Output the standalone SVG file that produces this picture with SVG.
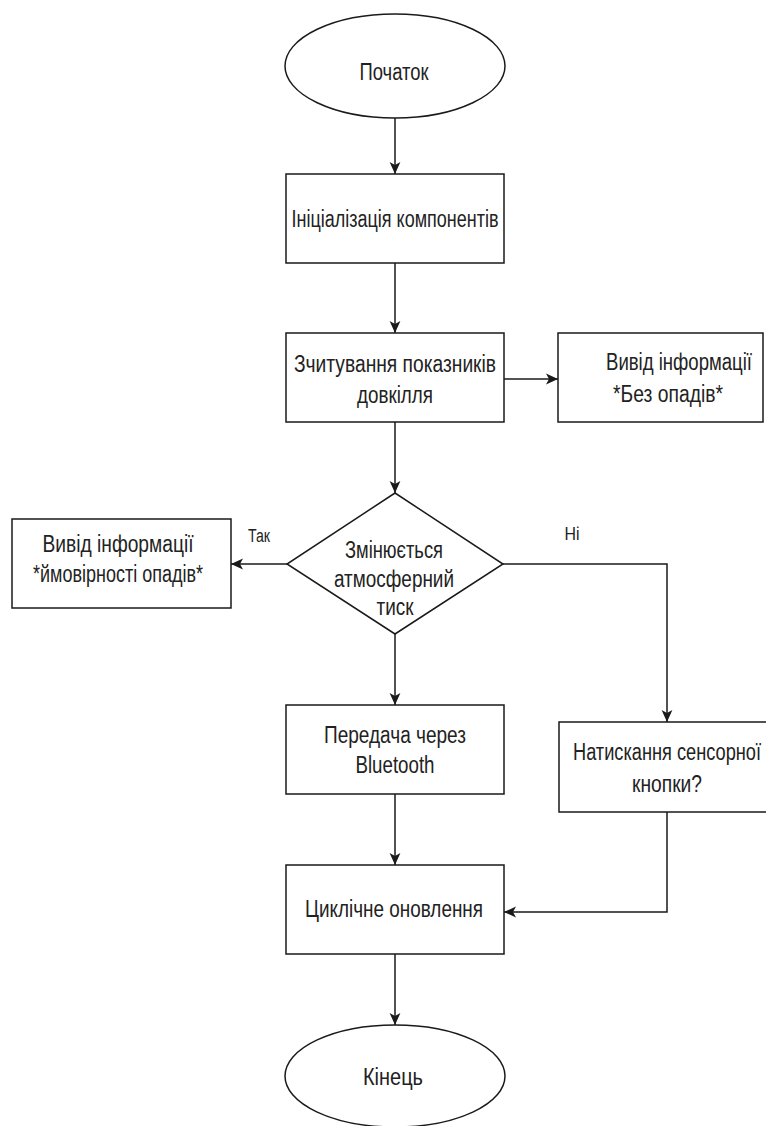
<svg xmlns="http://www.w3.org/2000/svg" width="766" height="1126" viewBox="0 0 766 1126">
<defs>
<style>
.shape{fill:#ffffff;stroke:#1a1a1a;stroke-width:1.5}
.edge{fill:none;stroke:#1a1a1a;stroke-width:1.5}
.t{font-family:"Liberation Sans",Arial,sans-serif;font-size:23.5px;fill:#222222;text-anchor:middle}
.lbl{font-family:"Liberation Sans",Arial,sans-serif;font-size:18px;fill:#222222;text-anchor:middle}
</style>
<marker id="arr" markerUnits="userSpaceOnUse" markerWidth="12" markerHeight="12" viewBox="0 0 10 10" refX="10" refY="5" orient="auto">
<path d="M0,0.5 L10,5 L0,9.5 L2.5,5 Z" fill="#1a1a1a"/>
</marker>
</defs>
<rect x="0" y="0" width="766" height="1126" fill="#ffffff"/>
<g id="connectors">
<path class="edge" d="M395,118 L395,174" marker-end="url(#arr)"/>
<path class="edge" d="M395,263 L395,333" marker-end="url(#arr)"/>
<path class="edge" d="M504,379 L558,379" marker-end="url(#arr)"/>
<path class="edge" d="M395,422 L395,493" marker-end="url(#arr)"/>
<path class="edge" d="M287,564 L231,564" marker-end="url(#arr)"/>
<path class="edge" d="M503,564 L667,564 L667,722" marker-end="url(#arr)"/>
<path class="edge" d="M395,634 L395,705" marker-end="url(#arr)"/>
<path class="edge" d="M395,794 L395,865" marker-end="url(#arr)"/>
<path class="edge" d="M667,812 L667,912 L504,912" marker-end="url(#arr)"/>
<path class="edge" d="M395,954 L395,1025" marker-end="url(#arr)"/>
<text class="lbl" x="259" y="542" textLength="22" lengthAdjust="spacingAndGlyphs">Так</text>
<text class="lbl" x="572" y="540" textLength="15" lengthAdjust="spacingAndGlyphs">Ні</text>
</g>
<g id="start">
<ellipse class="shape" cx="395" cy="66" rx="110" ry="52"/>
<text class="t" x="394" y="80" textLength="69" lengthAdjust="spacingAndGlyphs">Початок</text>
</g>
<g id="init">
<rect class="shape" x="286" y="174" width="218" height="89"/>
<text class="t" x="395" y="227" textLength="207" lengthAdjust="spacingAndGlyphs">Ініціалізація компонентів</text>
</g>
<g id="read">
<rect class="shape" x="286" y="333" width="218" height="89"/>
<text class="t" x="395" y="372" textLength="202" lengthAdjust="spacingAndGlyphs">Зчитування показників</text>
<text class="t" x="395" y="403" textLength="76" lengthAdjust="spacingAndGlyphs">довкілля</text>
</g>
<g id="no-rain">
<rect class="shape" x="558" y="333" width="205" height="89"/>
<text class="t" transform="translate(679,370) scale(0.8,1)" x="0" y="0" textLength="182.5" lengthAdjust="spacingAndGlyphs">Вивід інформації</text>
<text class="t" x="668" y="402" textLength="110" lengthAdjust="spacingAndGlyphs">*Без опадів*</text>
</g>
<g id="decision">
<polygon class="shape" points="395,493 503,564 395,634 287,564"/>
<text class="t" x="394" y="558" textLength="98" lengthAdjust="spacingAndGlyphs">Змінюється</text>
<text class="t" x="394" y="587" textLength="120" lengthAdjust="spacingAndGlyphs">атмосферний</text>
<text class="t" x="395" y="615" textLength="37" lengthAdjust="spacingAndGlyphs">тиск</text>
</g>
<g id="rain-prob">
<rect class="shape" x="12" y="519" width="219" height="89"/>
<text class="t" x="118" y="552" textLength="151" lengthAdjust="spacingAndGlyphs">Вивід інформації</text>
<text class="t" x="118" y="582" textLength="170" lengthAdjust="spacingAndGlyphs">*ймовірності опадів*</text>
</g>
<g id="bluetooth">
<rect class="shape" x="286" y="705" width="218" height="89"/>
<text class="t" x="395" y="743" textLength="142" lengthAdjust="spacingAndGlyphs">Передача через</text>
<text class="t" x="395" y="773" textLength="79" lengthAdjust="spacingAndGlyphs">Bluetooth</text>
</g>
<g id="touch">
<rect class="shape" x="559" y="722" width="220" height="90"/>
<text class="t" transform="translate(667,760) scale(0.8,1)" x="0" y="0" textLength="235" lengthAdjust="spacingAndGlyphs">Натискання сенсорної</text>
<text class="t" x="667" y="792" textLength="70" lengthAdjust="spacingAndGlyphs">кнопки?</text>
</g>
<g id="loop">
<rect class="shape" x="286" y="865" width="218" height="89"/>
<text class="t" x="394" y="917" textLength="178" lengthAdjust="spacingAndGlyphs">Циклічне оновлення</text>
</g>
<g id="end">
<ellipse class="shape" cx="395" cy="1076" rx="110" ry="51"/>
<text class="t" x="393" y="1085" textLength="60" lengthAdjust="spacingAndGlyphs">Кінець</text>
</g>
</svg>
